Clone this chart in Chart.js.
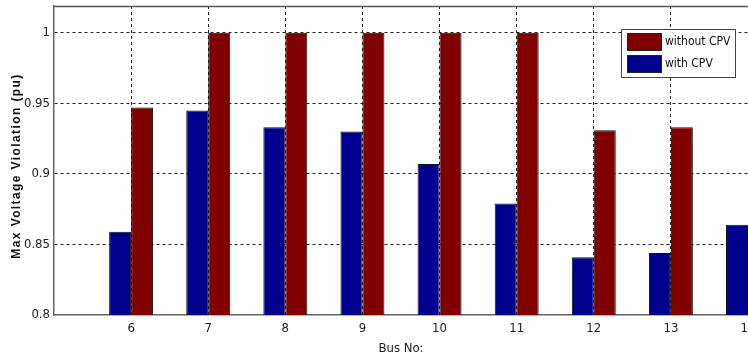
<!DOCTYPE html>
<html>
<head>
<meta charset="utf-8">
<script src="https://cdn.jsdelivr.net/npm/chart.js@4"></script>
<style>
  html, body { margin: 0; padding: 0; background: #fff; overflow: hidden; }
  #wrap { width: 748px; height: 356px; }
</style>
</head>
<body>
<div id="wrap"><canvas id="busChart" width="748" height="356"></canvas></div>
<script>
// Bus numbers (5 is the left axis edge, no bars there)
const buses = ['5', '6', '7', '8', '9', '10', '11', '12', '13', '14'];
const withCPV = [null, 0.859, 0.945, 0.933, 0.930, 0.907, 0.879, 0.841, 0.844, 0.864];
const withoutCPV = [null, 0.947, 1.0, 1.0, 1.0, 1.0, 1.0, 0.931, 0.933, 0.93];
const yTicks = [0.8, 0.85, 0.9, 0.95, 1];

const narrow = '"DejaVu Sans Condensed", "Liberation Sans Narrow", sans-serif';

// box round the plot, y title and legend inside the axes, like the matlab figure
const framePlugin = {
    id: 'frame',
    afterDraw(chart) {
        const c = chart.ctx, a = chart.chartArea;
        c.save();
        c.strokeStyle = '#555';
        c.lineWidth = 1.5;
        c.beginPath();
        c.moveTo(a.left, a.top + 0.5);
        c.lineTo(a.right, a.top + 0.5);
        c.stroke();

        // y axis title, spaced out
        c.save();
        c.translate(17, 166);
        c.rotate(-Math.PI / 2);
        c.font = 'bold 12px "Liberation Sans", Arial, sans-serif';
        if ('letterSpacing' in c) c.letterSpacing = '1.4px';
        c.fillStyle = '#111';
        c.textAlign = 'center';
        c.textBaseline = 'middle';
        c.fillText('Max Voltage Violation (pu)', 0, 0);
        c.restore();

        // legend
        const items = [
            { label: 'without CPV', color: '#800000' },
            { label: 'with CPV', color: '#00008f' }
        ];
        const x = 621, y = 29, w = 114, h = 48;
        c.fillStyle = '#fff';
        c.fillRect(x, y, w, h);
        c.lineWidth = 1;
        c.strokeStyle = '#444';
        c.strokeRect(x + 0.5, y + 0.5, w, h);
        c.font = '12px ' + narrow;
        c.textBaseline = 'middle';
        items.forEach((it, i) => {
            const sy = y + 4 + i * 22;
            c.fillStyle = it.color;
            c.fillRect(627, sy, 34, 17);
            c.strokeStyle = '#222';
            c.strokeRect(627.5, sy + 0.5, 34, 17);
            c.fillStyle = '#111';
            c.fillText(it.label, 665, sy + 9);
        });
        c.restore();
    }
};

const ctx = document.getElementById('busChart').getContext('2d');
const busChart = new Chart(ctx, {
    type: 'bar',
    data: {
        labels: buses,
        datasets: [{
            label: 'with CPV',
            data: withCPV,
            backgroundColor: '#00008f',
            borderColor: '#111',
            borderWidth: 1,
            categoryPercentage: 0.57,
            barPercentage: 1.0
        }, {
            label: 'without CPV',
            data: withoutCPV,
            backgroundColor: '#800000',
            borderColor: '#111',
            borderWidth: 1,
            categoryPercentage: 0.57,
            barPercentage: 1.0
        }]
    },
    options: {
        responsive: false,
        animation: false,
        layout: { padding: { top: 6, right: 0, left: 0, bottom: 0 } },
        plugins: {
            legend: { display: false },
            tooltip: { enabled: false }
        },
        scales: {
            x: {
                offset: false,
                grid: {
                    offset: false,
                    color: ctx => ctx.index === 0 ? 'rgba(0,0,0,0)' : '#222',
                    lineWidth: 1,
                    drawTicks: false
                },
                border: { display: true, color: '#666', width: 1.5, dash: [3, 3] },
                ticks: {
                    color: '#222',
                    font: { family: narrow, size: 13 },
                    padding: 6,
                    maxRotation: 0,
                    autoSkip: false,
                    callback: function (v, i) { return i === 0 ? '' : buses[i]; }
                },
                title: {
                    display: true,
                    text: 'Bus No:',
                    color: '#222',
                    font: { family: narrow, size: 13 },
                    padding: { top: 2, bottom: 0 }
                },
                afterFit: s => { s.height = 41; s.paddingLeft = 0; s.paddingRight = 0; }
            },
            y: {
                min: 0.8,
                max: 1.019,
                afterBuildTicks: s => { s.ticks = yTicks.map(v => ({ value: v })); },
                grid: {
                    color: ctx => ctx.index === 0 ? 'rgba(0,0,0,0)' : '#222',
                    lineWidth: 1,
                    drawTicks: false
                },
                border: { display: true, color: '#666', width: 1.5, dash: [3, 3] },
                ticks: {
                    color: '#222',
                    font: { family: narrow, size: 13 },
                    padding: 4,
                    callback: v => String(Math.round(v * 100) / 100)
                },
                afterFit: s => { s.width = 54; s.paddingTop = 0; s.paddingBottom = 0; }
            }
        }
    },
    plugins: [framePlugin]
});
</script>
</body>
</html>
